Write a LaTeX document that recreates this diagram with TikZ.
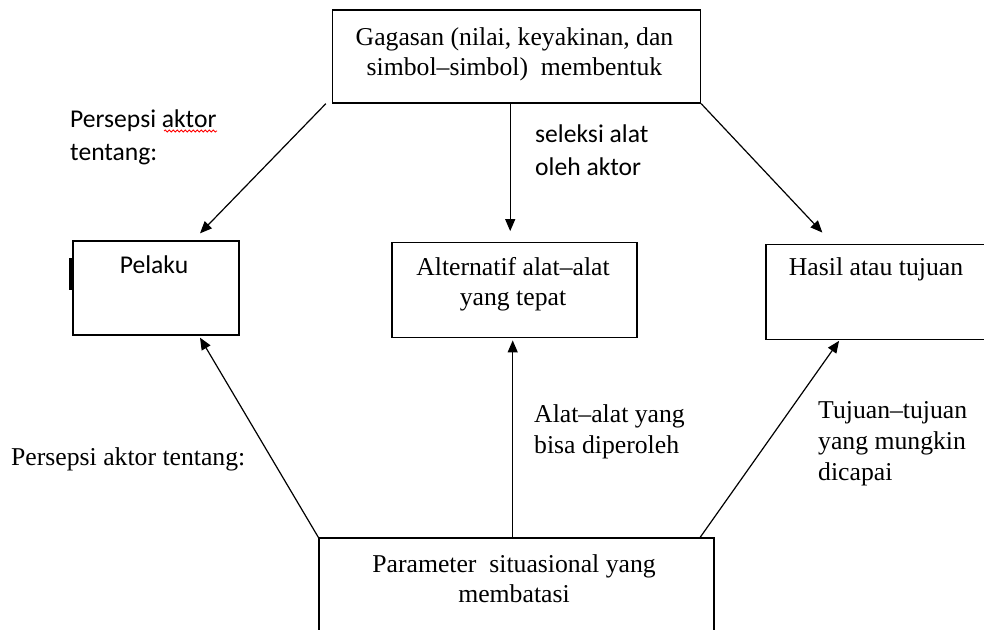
\documentclass[tikz,border=0pt]{standalone}
\usepackage{fontspec}
\setmainfont{Liberation Serif}
\newfontfamily\calfont{Carlito}
\usetikzlibrary{arrows.meta,decorations.pathmorphing}
\tikzset{
  box/.style={draw,line width=1.3pt,inner sep=0pt},
  arr/.style={line width=1.2pt,-{Triangle[length=12pt,width=10pt]}},
  tx/.style={inner sep=0pt,font=\fontsize{25.7}{30}\selectfont},
  sx/.style={inner sep=0pt,font=\calfont\fontsize{25.6}{33}\selectfont},
}
\begin{document}
\begin{tikzpicture}[x=1pt,y=-1pt]
\useasboundingbox (0,0) rectangle (984,629);
% boxes
\node[box,minimum width=368pt,minimum height=93pt] (top) at (516.5,56.5) {};
\node[box,minimum width=166pt,minimum height=94pt] (pel) at (156,288) {};
\node[box,minimum width=245pt,minimum height=94.5pt] (alt) at (514.5,290) {};
\node[box,minimum width=240pt,minimum height=95pt] (has) at (886,291.7) {};
\node[box,minimum width=395pt,minimum height=110pt] (bot) at (516.5,593) {};
\fill (69,258) rectangle (72.8,290);
% box texts
\node[tx,anchor=base] (t1) at (514.5,45) {Gagasan (nilai, keyakinan, dan};
\node[tx,anchor=base] (t2) at (514.5,75) {simbol–simbol)\ \ membentuk};
\node[sx,anchor=base] (p1) at (154,273) {Pelaku};
\node[tx,anchor=base] (a1) at (513,275) {Alternatif alat–alat};
\node[tx,anchor=base] (a2) at (513,305) {yang tepat};
\node[tx,anchor=base] (h1) at (876,275) {Hasil atau tujuan};
\node[tx,anchor=base] (b1) at (514,572) {Parameter\ \ situasional yang};
\node[tx,anchor=base] (b2) at (514,602) {membatasi};
% labels
\node[sx,anchor=base west] (l1) at (70,127) {Persepsi aktor};
\node[sx,anchor=base west] (l2) at (70,160) {tentang:};
\draw[red,line width=0.8pt,decorate,decoration={snake,segment length=4pt,amplitude=1pt}] (164,131) -- (217,131);
\node[sx,anchor=base west] (s1) at (535,142) {seleksi alat};
\node[sx,anchor=base west] (s2) at (535,175) {oleh aktor};
\node[tx,anchor=base west] (q1) at (11,465) {Persepsi aktor tentang:};
\node[tx,anchor=base west] (m1) at (534,422) {Alat–alat yang};
\node[tx,anchor=base west] (m2) at (534,453) {bisa diperoleh};
\node[tx,anchor=base west] (r1) at (818,418) {Tujuan–tujuan};
\node[tx,anchor=base west] (r2) at (818,449) {yang mungkin};
\node[tx,anchor=base west] (r3) at (818,480) {dicapai};
% connectors
\draw[arr] ([xshift=-6pt]top.south west) -- ([xshift=44pt,yshift=7pt]pel.north);
\draw[arr] ([xshift=-6.3pt]top.south) -- ([xshift=-4.3pt,yshift=11pt]alt.north);
\draw[arr] (top.south east) -- ([xshift=57pt,yshift=11pt]has.north west);
\draw[arr] (bot.north west) -- ([xshift=44pt,yshift=-2pt]pel.south);
\draw[arr] ([xshift=-3.8pt]bot.north) -- ([xshift=-1.8pt,yshift=-2.5pt]alt.south);
\draw[arr] ([xshift=-14.5pt]bot.north east) -- ([xshift=73.7pt,yshift=-1pt]has.south west);
\end{tikzpicture}
\end{document}
